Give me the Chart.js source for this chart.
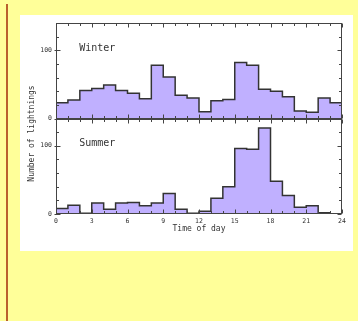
<!DOCTYPE html>
<html>
<head>
<meta charset="utf-8">
<script src="https://cdn.jsdelivr.net/npm/chart.js@4"></script>
<style>
  html, body { margin: 0; padding: 0; }
  body { width: 358px; height: 321px; background: #ffff99; position: relative; overflow: hidden; }
  #edge { position: absolute; left: 6px; top: 4px; width: 2px; height: 317px; background: #b9612d; }
  #box { position: absolute; left: 20px; top: 15px; width: 333px; height: 236px; background: #ffffff; }
  canvas { display: block; }
</style>
</head>
<body>
<div id="edge"></div>
<div id="box"><canvas id="c" width="333" height="236"></canvas></div>
<script>
// Hour bins (start of each 1-hour bin)
const hours = [0,1,2,3,4,5,6,7,8,9,10,11,12,13,14,15,16,17,18,19,20,21,22,23];
// Number of lightnings per hour
const winter = [23,27,41,44,49,41,37,29,78,61,34,30,10,26,28,82,78,43,40,32,11,9,30,23];
const summer = [8,13,1,16,7,16,17,12,16,30,7,1,4,23,40,96,95,126,48,27,10,12,2,0];
// Axis ticks / labels
const xTickLabels = [0,3,6,9,12,15,18,21,24];
const yTickLabels = [0,100];
const panelLabels = ['Winter','Summer'];
const xTitle = 'Time of day';
const yTitle = 'Number of lightnings';

function stepPoints(vals) {
  const pts = hours.map((h, i) => ({x: h, y: vals[i]}));
  pts.push({x: hours[hours.length - 1] + 1, y: vals[vals.length - 1]});
  return pts;
}

const FILL = '#c0b0ff';
const LINE = '#333333';
const TXT = '#333333';
const MONO = 'DejaVu Sans Mono';

const decor = {
  id: 'decor',
  afterDatasetsDraw(chart) {
    const {ctx} = chart;
    const x = chart.scales.x;
    const panels = [chart.scales.yWinter, chart.scales.ySummer];
    ctx.save();
    ctx.strokeStyle = '#444';
    ctx.lineWidth = 1;
    panels.forEach((s, idx) => {
      const l = Math.round(x.left) + 0.5, r = Math.round(x.right) - 0.5;
      const t = Math.round(s.top) + 0.5, b = Math.round(s.bottom) - 0.5;
      ctx.strokeRect(l, t, r - l, b - t);
      ctx.beginPath();
      for (let h = hours[0]; h <= hours[hours.length - 1] + 1; h++) {
        const px = Math.round(x.getPixelForValue(h)) + 0.5;
        const len = (h % 3 === 0) ? 4 : 2.5;
        ctx.moveTo(px, t); ctx.lineTo(px, t + len);
        ctx.moveTo(px, b); ctx.lineTo(px, b - len);
      }
      s.ticks.forEach(tk => {
        const py = Math.round(s.getPixelForValue(tk.value)) + 0.5;
        const major = yTickLabels.includes(tk.value);
        const len = major ? 4 : 2.5;
        ctx.moveTo(l - (major ? 2 : 0), py); ctx.lineTo(l + len, py);
        ctx.moveTo(r, py); ctx.lineTo(r - len, py);
      });
      ctx.stroke();
      // panel label
      ctx.fillStyle = TXT;
      ctx.font = '10px "' + MONO + '"';
      ctx.textBaseline = 'middle';
      ctx.textAlign = 'left';
      ctx.fillText(panelLabels[idx], x.getPixelForValue(1.95), s.getPixelForValue(103));
    });
    // shared y-axis title
    const ca = chart.chartArea;
    ctx.translate(12, (ca.top + ca.bottom) / 2 + 15);
    ctx.rotate(-Math.PI / 2);
    ctx.font = '8px "' + MONO + '"';
    ctx.textAlign = 'center';
    ctx.textBaseline = 'middle';
    ctx.fillStyle = TXT;
    ctx.fillText(yTitle, 0, 0);
    ctx.restore();
  }
};

const yScale = () => ({
  type: 'linear',
  position: 'left',
  stack: 'panels',
  stackWeight: 1,
  min: 0,
  max: 140,
  grid: { display: false, drawTicks: false },
  border: { display: false },
  ticks: {
    stepSize: 20,
    padding: 4,
    autoSkip: false,
    color: TXT,
    font: { family: MONO, size: 6.5 },
    callback: (v) => yTickLabels.includes(v) ? String(v) : ''
  },
  afterFit: (s) => { s.width = 36; }
});

new Chart(document.getElementById('c'), {
  type: 'line',
  data: {
    datasets: [
      { label: panelLabels[0], data: stepPoints(winter), yAxisID: 'yWinter', stepped: true,
        borderColor: LINE, borderWidth: 1.5, backgroundColor: FILL, fill: 'origin', pointRadius: 0 },
      { label: panelLabels[1], data: stepPoints(summer), yAxisID: 'ySummer', stepped: true,
        borderColor: LINE, borderWidth: 1.5, backgroundColor: FILL, fill: 'origin', pointRadius: 0 }
    ]
  },
  options: {
    responsive: false,
    animation: false,
    devicePixelRatio: 1,
    layout: { padding: { top: 8, right: 11, left: 0, bottom: 0 } },
    plugins: { legend: { display: false }, tooltip: { enabled: false } },
    scales: {
      x: {
        type: 'linear',
        min: 0,
        max: 24,
        grid: { display: false, drawTicks: false },
        border: { display: false },
        ticks: {
          stepSize: 3,
          padding: 3,
          color: TXT,
          maxRotation: 0,
          autoSkip: false,
          font: { family: MONO, size: 6.5 },
          callback: (v) => xTickLabels.includes(v) ? String(v) : ''
        },
        title: {
          display: true,
          text: xTitle,
          color: TXT,
          font: { family: MONO, size: 8 },
          padding: { top: 0, bottom: 17 }
        },
        afterFit: (s) => { s.height = 37; }
      },
      ySummer: yScale(),
      yWinter: yScale()
    }
  },
  plugins: [decor]
});
</script>
</body>
</html>
